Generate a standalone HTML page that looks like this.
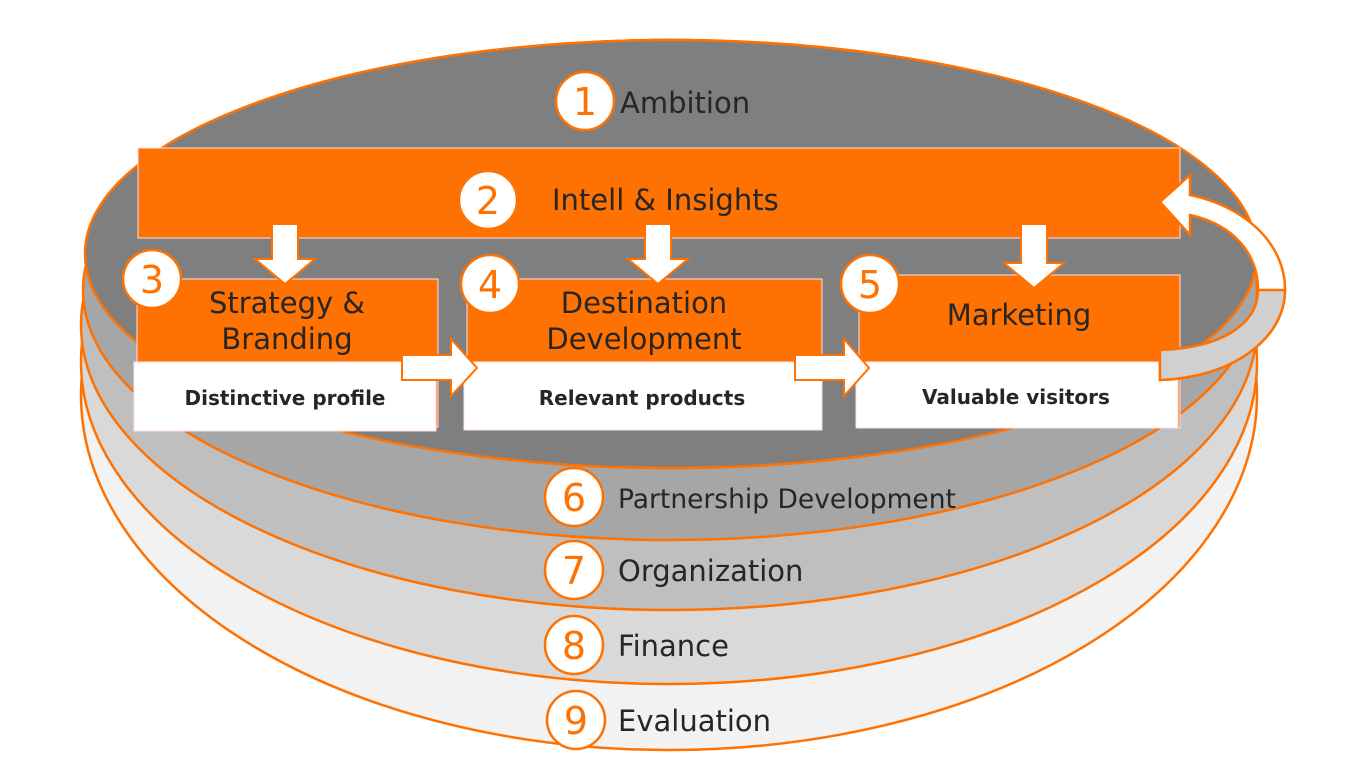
<!DOCTYPE html>
<html><head><meta charset="utf-8"><style>body{margin:0;background:#fff}svg{display:block}</style></head><body>
<svg width="1366" height="768" viewBox="0 0 1366 768" xmlns="http://www.w3.org/2000/svg" font-family="'DejaVu Sans', 'Liberation Sans', sans-serif">
<g stroke="#ff7100" stroke-width="2.5">
<ellipse cx="669" cy="395" rx="588" ry="355" fill="#f2f2f2"/>
<ellipse cx="669" cy="362" rx="588" ry="322" fill="#d9d9d9"/>
<ellipse cx="669" cy="325" rx="588" ry="285" fill="#bfbfbf"/>
<ellipse cx="670" cy="290" rx="587" ry="250" fill="#a6a6a6"/>
<ellipse cx="671" cy="254" rx="586" ry="214" fill="#7f7f7f"/>
</g>
<rect x="138" y="148" width="1042" height="90" fill="#ff7100" stroke="#fde" stroke-width="1"/>
<g fill="#ff7100" stroke="#fde" stroke-width="1">
<rect x="137" y="279" width="301" height="148"/>
<rect x="467" y="279" width="355" height="149"/>
<rect x="859" y="275" width="321" height="153"/>
</g>
<g fill="#fff" stroke="#fde" stroke-width="1">
<rect x="134" y="362" width="302" height="69"/>
<rect x="464" y="362" width="358" height="68"/>
<rect x="856" y="362" width="322" height="66"/>
</g>
<path d="M1160,380 C1230,378 1285,340 1285,290 C1285,240 1240,205 1190,195 L1190,175 L1160,202 L1190,235 L1190,215 C1235,225 1258,255 1258,290 C1258,325 1220,348 1160,350 Z" fill="#fff" stroke="#ff7100" stroke-width="2.5"/>
<path d="M1160,380 C1230,378 1285,340 1285,290 L1258,290 C1258,325 1220,348 1160,350 Z" fill="#d0d0d0" stroke="#ff7100" stroke-width="2.5"/>
<g fill="#fff" stroke="#ff7100" stroke-width="2">
<path d="M272,224 H298 V259 H315 L285,284 L255,259 H272 Z"/>
<path d="M645,224 H671 V259 H688 L658,284 L628,259 H645 Z"/>
<path d="M1021,224 H1047 V263 H1064 L1034,288 L1004,263 H1021 Z"/>
<path d="M402,355 H451 V339 L477,368 L451,396 V380 H402 Z"/>
<path d="M795,355 H844 V339 L869,368 L844,396 V380 H795 Z"/>
</g>
<g fill="#fff" stroke="#ff7100" stroke-width="2.5">
<circle cx="585" cy="101" r="29"/><circle cx="488" cy="200" r="29"/>
<circle cx="152" cy="279" r="29"/><circle cx="490" cy="284" r="29"/><circle cx="870" cy="284" r="29"/>
<circle cx="574" cy="497" r="29"/><circle cx="574" cy="570" r="29"/><circle cx="574" cy="645" r="29"/><circle cx="576" cy="720" r="29"/>
</g>
<g fill="#ff7100" font-size="38" text-anchor="middle">
<text x="585" y="115">1</text><text x="488" y="214">2</text><text x="152" y="293">3</text><text x="490" y="298">4</text><text x="870" y="298">5</text>
<text x="574" y="511">6</text><text x="574" y="584">7</text><text x="574" y="659">8</text><text x="576" y="734">9</text>
</g>
<g fill="#262626" font-size="29">
<text x="620" y="113">Ambition</text>
<text x="552" y="210">Intell &amp; Insights</text>
<text x="287" y="313" text-anchor="middle">Strategy &amp;</text>
<text x="287" y="349" text-anchor="middle">Branding</text>
<text x="644" y="313" text-anchor="middle">Destination</text>
<text x="644" y="349" text-anchor="middle">Development</text>
<text x="1019" y="325" text-anchor="middle">Marketing</text>
<text x="618" y="508" font-size="26.5">Partnership Development</text>
<text x="618" y="581">Organization</text>
<text x="618" y="656">Finance</text>
<text x="618" y="731">Evaluation</text>
</g>
<g fill="#262626" font-size="20" font-weight="bold" text-anchor="middle">
<text x="285" y="405">Distinctive profile</text>
<text x="642" y="405">Relevant products</text>
<text x="1016" y="404">Valuable visitors</text>
</g>
</svg>
</body></html>
